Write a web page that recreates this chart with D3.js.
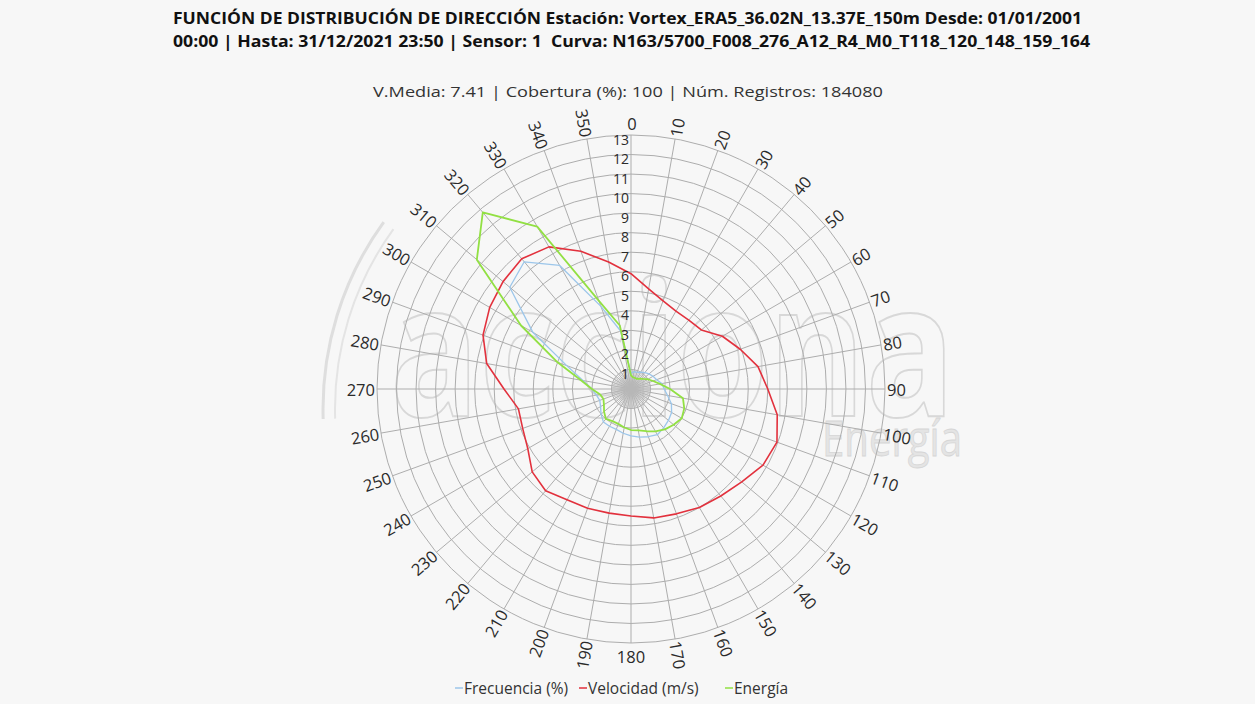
<!DOCTYPE html>
<html>
<head>
<meta charset="utf-8">
<script src="https://cdn.jsdelivr.net/npm/d3@7/dist/d3.min.js"></script>
<style>
  html, body { margin: 0; padding: 0; background: #f7f7f7; }
  svg { display: block; }
  text { font-family: "Open Sans", "Noto Sans", sans-serif; }
</style>
</head>
<body>
<svg id="chart" width="1255" height="704"></svg>
<script>
// Direction sectors (degrees)
const directions = d3.range(0, 360, 10);
// Frecuencia (%) per sector
const frecuencia = [0.8, 0.9, 0.9, 1.0, 1.1, 1.2, 1.3, 1.4, 1.6, 1.7,
                    1.9, 2.2, 2.4, 2.5, 2.6, 2.7, 2.6, 2.5, 2.4,
                    2.3, 2.2, 2.2, 2.2, 2.0, 1.8, 1.7, 1.8, 2.0,
                    2.5, 3.5, 5.8, 8.1, 8.5, 7.3, 4.5, 3.0];
// Velocidad media (m/s) per sector
const velocidad = [5.9, 5.2, 4.8, 4.6, 4.6, 4.7, 5.4, 5.95, 6.6, 7.0,
                   7.6, 7.95, 7.8, 7.4, 7.15, 7.0, 6.8, 6.7, 6.5,
                   6.45, 6.5, 6.55, 6.8, 6.6, 6.1, 5.9, 5.85, 6.5,
                   7.5, 8.06, 8.35, 8.55, 8.7, 8.4, 7.5, 6.6];
// Energía per sector
const energia = [0.7, 0.6, 0.6, 0.6, 0.7, 0.8, 1.0, 1.2, 1.5, 2.0,
                 2.7, 2.9, 3.0, 2.85, 2.7, 2.5, 2.3, 2.15, 2.1,
                 2.0, 1.9, 1.9, 2.0, 1.8, 1.6, 1.5, 1.6, 2.0,
                 2.6, 4.0, 6.5, 10.3, 11.8, 9.6, 4.8, 3.3];
// Radial ticks
const radialTicks = d3.range(1, 14);
const angleTicks = d3.range(0, 360, 10);

const titleLines = [
  "FUNCIÓN DE DISTRIBUCIÓN DE DIRECCIÓN Estación: Vortex_ERA5_36.02N_13.37E_150m Desde: 01/01/2001",
  "00:00 | Hasta: 31/12/2021 23:50 | Sensor: 1  Curva: N163/5700_F008_276_A12_R4_M0_T118_120_148_159_164"
];
const subtitle = "V.Media: 7.41 | Cobertura (%): 100 | Núm. Registros: 184080";

const series = [
  { name: "Frecuencia (%)", values: frecuencia, color: "#9cc6ea", width: 1.3 },
  { name: "Velocidad (m/s)", values: velocidad, color: "#e2313d", width: 1.6 },
  { name: "Energía", values: energia, color: "#92e043", width: 1.8 }
];

const svg = d3.select("#chart");
const W = 1255, H = 704;
const cx = 631, cy = 389, R = 254;

const r = d3.scaleLinear().domain([0, 13]).range([0, R]);
const a = d3.scaleLinear().domain([0, 360]).range([0, 2 * Math.PI]);

svg.append("rect").attr("width", W).attr("height", H).attr("fill", "#f7f7f7");

// Watermark logo
const wm = svg.append("g").attr("class", "watermark");
[[318, 3, "#dedede"], [306, 2, "#e4e4e4"]].forEach(([rad, sw, col]) => {
  wm.append("path")
    .attr("d", () => {
      const p = d3.path();
      p.arc(cx + 10, cy + 20, rad, Math.PI * 0.99, Math.PI * 1.2);
      return p.toString();
    })
    .attr("fill", "none").attr("stroke", col).attr("stroke-width", sw);
});
wm.append("text")
  .attr("x", 390).attr("y", 416)
  .attr("font-size", 185)
  .attr("font-weight", "bold")
  .attr("textLength", 565).attr("lengthAdjust", "spacingAndGlyphs")
  .attr("fill", "none").attr("stroke", "#d8d8d8").attr("stroke-width", 2)
  .text("acciona");
wm.append("text")
  .attr("x", 822).attr("y", 456)
  .attr("font-size", 50)
  .attr("textLength", 140).attr("lengthAdjust", "spacingAndGlyphs")
  .attr("fill", "#e4e4e4").attr("stroke", "#d6d6d6").attr("stroke-width", 0.8)
  .text("Energía");

// Grid
const g = svg.append("g").attr("transform", `translate(${cx},${cy})`);
g.selectAll("circle.ring").data(radialTicks).join("circle")
  .attr("class", "ring")
  .attr("r", d => r(d))
  .attr("fill", "none").attr("stroke", "#adadad").attr("stroke-width", 1);

g.selectAll("line.spoke").data(angleTicks).join("line")
  .attr("class", "spoke")
  .attr("x1", 0).attr("y1", 0)
  .attr("x2", d => R * Math.sin(a(d)))
  .attr("y2", d => -R * Math.cos(a(d)))
  .attr("stroke", "#adadad").attr("stroke-width", 1);

// Dense hub where the spokes meet
g.selectAll("line.hub").data(d3.range(0, 360, 5)).join("line")
  .attr("class", "hub")
  .attr("x1", 0).attr("y1", 0)
  .attr("x2", d => r(1) * Math.sin(a(d)))
  .attr("y2", d => -r(1) * Math.cos(a(d)))
  .attr("stroke", "#b8b8b8").attr("stroke-width", 0.8);

// Series
const line = d3.lineRadial()
  .angle((d, i) => a(directions[i]))
  .radius(d => r(d))
  .curve(d3.curveLinearClosed);

series.forEach(s => {
  g.append("path")
    .datum(s.values)
    .attr("d", line)
    .attr("fill", "none")
    .attr("stroke", s.color)
    .attr("stroke-width", s.width)
    .attr("stroke-linejoin", "round");
});

// Radial tick labels along north spoke
g.selectAll("text.rtick").data(radialTicks).join("text")
  .attr("class", "rtick")
  .attr("x", -2)
  .attr("y", d => -r(d) + 4)
  .attr("text-anchor", "end")
  .attr("dominant-baseline", "central")
  .attr("font-size", 14)
  .attr("fill", "#2a2a2a")
  .text(d => d);

// Angle labels around outer ring
const labelGap = 2;
g.selectAll("text.atick").data(angleTicks).join("text")
  .attr("class", "atick")
  .attr("font-size", 16.5)
  .attr("fill", "#2a2a2a")
  .each(function(d) {
    const t = d3.select(this);
    const rad = a(d);
    const x = (R + labelGap) * Math.sin(rad);
    const y = -(R + labelGap) * Math.cos(rad);
    if (d === 0) {
      t.attr("x", 1).attr("y", -R - 5).attr("text-anchor", "middle");
    } else if (d === 180) {
      t.attr("x", 0).attr("y", R + 6).attr("text-anchor", "middle")
       .attr("dominant-baseline", "hanging");
    } else if (d < 180) {
      t.attr("transform", `translate(${x},${y}) rotate(${d - 90})`)
       .attr("text-anchor", "start").attr("dominant-baseline", "central");
    } else {
      t.attr("transform", `translate(${x},${y}) rotate(${d - 270})`)
       .attr("text-anchor", "end").attr("dominant-baseline", "central");
    }
  })
  .text(d => d);

// Title
svg.selectAll("text.title").data(titleLines).join("text")
  .attr("class", "title")
  .attr("x", 173)
  .attr("y", (d, i) => 24 + i * 23)
  .attr("font-size", 15.5)
  .attr("font-weight", "bold")
  .attr("fill", "#111")
  .style("white-space", "pre")
  .attr("textLength", (d, i) => i === 0 ? 909 : 917)
  .attr("lengthAdjust", "spacingAndGlyphs")
  .text(d => d);

svg.append("text")
  .attr("x", 373).attr("y", 97)
  .attr("font-size", 14)
  .attr("fill", "#333")
  .attr("textLength", 510).attr("lengthAdjust", "spacingAndGlyphs")
  .text(subtitle);

// Legend
const legendItems = [
  { s: series[0], x: 455 },
  { s: series[1], x: 579 },
  { s: series[2], x: 725 }
];
const lg = svg.append("g").attr("class", "legend");
legendItems.forEach(it => {
  lg.append("line")
    .attr("x1", it.x).attr("x2", it.x + 8)
    .attr("y1", 688).attr("y2", 688)
    .attr("stroke", it.s.color).attr("stroke-width", 1.5);
  lg.append("text")
    .attr("x", it.x + 9).attr("y", 694)
    .attr("font-size", 15.5)
    .attr("fill", "#333")
    .text(it.s.name);
});
</script>
</body>
</html>
